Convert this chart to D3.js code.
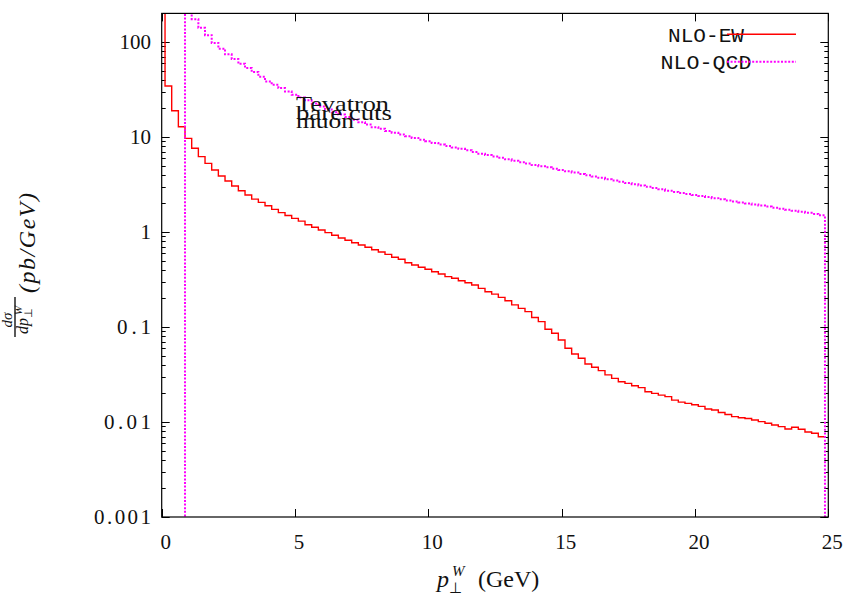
<!DOCTYPE html>
<html><head><meta charset="utf-8">
<script src="https://cdn.jsdelivr.net/npm/d3@7"></script>
<style>body{margin:0;background:#fff}svg{display:block}</style>
</head><body>
<svg id="chart" width="847" height="601"></svg>
<script>
// ---- data ----
const binWidth = 0.25;
const ewFirstCenter = 0.0;
const ewValues = [
  300, 34.4, 18.9, 12.8,
  9.68, 7.60, 6.21, 5.28,
  4.50, 3.88, 3.44, 3.05,
  2.72, 2.45, 2.22, 2.05,
  1.89, 1.73, 1.60, 1.49,
  1.39, 1.30, 1.19, 1.12,
  1.05, 0.984, 0.923, 0.865,
  0.818, 0.771, 0.730, 0.690,
  0.651, 0.616, 0.582, 0.542,
  0.516, 0.475, 0.450, 0.425,
  0.405, 0.382, 0.361, 0.339,
  0.326, 0.307, 0.292, 0.277,
  0.255, 0.235, 0.222, 0.205,
  0.189, 0.171, 0.157, 0.145,
  0.126, 0.114, 0.0946, 0.0859,
  0.0730, 0.0597, 0.0520, 0.0469,
  0.0408, 0.0377, 0.0347, 0.0313,
  0.0288, 0.0265, 0.0255, 0.0241,
  0.0230, 0.0208, 0.0200, 0.0192,
  0.0185, 0.0170, 0.0162, 0.0157,
  0.0152, 0.0146, 0.0137, 0.0134,
  0.0126, 0.0120, 0.0114, 0.0111,
  0.0109, 0.0105, 0.0101, 0.00969,
  0.00929, 0.00893, 0.00844, 0.00879,
  0.00838, 0.00785, 0.00760, 0.00700
];
const qcdFirstCenter = 1.0;
const qcdValues = [
  250, 174, 141, 118,
  97.7, 85.1, 74.1, 66.1,
  58.9, 53.3, 48.4, 43.2,
  38.5, 35.5, 32.7, 30.2,
  27.9, 26.0, 24.3, 22.5,
  20.9, 19.5, 18.2, 17.2,
  16.2, 15.2, 14.3, 13.5,
  12.7, 12.2, 11.6, 11.1,
  10.6, 10.2, 9.77, 9.38,
  9.02, 8.65, 8.32, 8.04,
  7.76, 7.50, 7.24, 6.95,
  6.68, 6.46, 6.24, 6.03,
  5.82, 5.62, 5.43, 5.25,
  5.07, 4.92, 4.79, 4.63,
  4.49, 4.35, 4.22, 4.08,
  3.96, 3.84, 3.72, 3.60,
  3.49, 3.38, 3.27, 3.18,
  3.09, 2.99, 2.90, 2.81,
  2.72, 2.64, 2.57, 2.51,
  2.45, 2.39, 2.33, 2.27,
  2.21, 2.15, 2.10, 2.05,
  2.00, 1.95, 1.90, 1.85,
  1.80, 1.76, 1.71, 1.67,
  1.63, 1.59, 1.55, 1.50
];
const seriesNames = ["NLO-EW", "NLO-QCD"];
const seriesColors = ["#ff0000", "#ff00ff"];
const xTicks = [0, 5, 10, 15, 20, 25];
const xTickLabels = ["0", "5", "10", "15", "20", "25"];
const yTicks = [0.001, 0.01, 0.1, 1, 10, 100];
const yTickLabels = ["0.001", "0.01", "0.1", "1", "10", "100"];
const xDomain = [0, 25];
const yDomain = [0.001, 200];
const annotationLines = ["Tevatron", "bare cuts", "muon"];

// ---- layout ----
const svg = d3.select("#chart");
const L = 161.7, R = 828.3, T = 13.4, B = 517;
const x = d3.scaleLinear().domain(xDomain).range([L, R]);
const y = d3.scaleLog().domain(yDomain).range([B, T]);
const serif = "'Liberation Serif','Times New Roman',serif";
const mono = "'Liberation Mono','DejaVu Sans Mono',monospace";
const ink = "#111";

svg.append("defs").append("clipPath").attr("id", "plotclip")
  .append("rect").attr("x", L).attr("y", T).attr("width", R - L).attr("height", B - T);

// ticks
const tickG = svg.append("g").attr("stroke", "#000").attr("stroke-width", 1);
const minorY = [];
for (let e = -3; e <= 2; e++) for (let m = 1; m <= 9; m++) {
  const v = m * Math.pow(10, e);
  if (v >= yDomain[0] && v <= yDomain[1]) minorY.push({v, major: m === 1});
}
minorY.forEach(t => {
  const len = t.major ? 8 : 4;
  const yy = Math.round(y(t.v)) + 0.5;
  tickG.append("line").attr("x1", L).attr("x2", L + len).attr("y1", yy).attr("y2", yy);
  tickG.append("line").attr("x1", R - len).attr("x2", R).attr("y1", yy).attr("y2", yy);
});
xTicks.forEach(t => {
  const xx = Math.round(x(t)) + 0.5;
  tickG.append("line").attr("x1", xx).attr("x2", xx).attr("y1", B).attr("y2", B - 8);
  tickG.append("line").attr("x1", xx).attr("x2", xx).attr("y1", T).attr("y2", T + 8);
});

// tick labels
const yLabWidths = {"0.001": 57, "0.01": 47, "0.1": 34};
svg.append("g").selectAll("text").data(yTicks).join("text")
  .attr("x", 151).attr("y", d => y(d) + 7)
  .attr("text-anchor", "end").attr("fill", ink)
  .attr("font-family", serif).attr("font-size", 21)
  .each(function(d, i) {
    const s = yTickLabels[i];
    if (yLabWidths[s]) d3.select(this).attr("textLength", yLabWidths[s]).attr("lengthAdjust", "spacing");
  })
  .text((d, i) => yTickLabels[i]);
svg.append("g").selectAll("text").data(xTicks).join("text")
  .attr("x", d => x(d) + 4).attr("y", 549)
  .attr("text-anchor", "middle").attr("fill", ink)
  .attr("font-family", serif).attr("font-size", 21)
  .text((d, i) => xTickLabels[i]);

// histogram step paths
function stepPoints(firstCenter, values, openBottomStart, closeBottomEnd) {
  const pts = [];
  const floor = 1e-5;
  const left0 = firstCenter - binWidth / 2;
  if (openBottomStart) pts.push([left0, floor]);
  values.forEach((v, i) => pts.push([firstCenter + i * binWidth - binWidth / 2, v]));
  const lastRight = firstCenter + (values.length - 1) * binWidth + binWidth / 2;
  pts.push([lastRight, values[values.length - 1]]);
  if (closeBottomEnd) pts.push([lastRight, floor]);
  return pts;
}
const line = d3.line()
  .x(d => x(d[0]))
  .y(d => Math.max(-50, Math.min(700, y(d[1]))))
  .curve(d3.curveStepAfter);

const plotG = svg.append("g").attr("clip-path", "url(#plotclip)");
plotG.append("path")
  .attr("d", line(stepPoints(ewFirstCenter, ewValues, false, false)))
  .attr("fill", "none").attr("stroke", seriesColors[0]).attr("stroke-width", 1.4);
plotG.append("path")
  .attr("d", line(stepPoints(qcdFirstCenter, qcdValues, true, true)))
  .attr("fill", "none").attr("stroke", seriesColors[1]).attr("stroke-width", 2)
  .attr("stroke-dasharray", "2,1.6");

// frame
svg.append("rect").attr("x", L).attr("y", T).attr("width", R - L).attr("height", B - T)
  .attr("fill", "none").attr("stroke", "#000").attr("stroke-width", 1.2);

// legend
const legY = [34.3, 61.7];
const legW = [76, 91];
seriesNames.forEach((name, i) => {
  svg.append("text").attr("x", 706).attr("y", legY[i] + 7.5)
    .attr("text-anchor", "middle").attr("fill", ink)
    .attr("font-family", mono).attr("font-size", 21)
    .attr("textLength", legW[i]).attr("lengthAdjust", "spacingAndGlyphs")
    .text(name);
  const ln = svg.append("line").attr("x1", 727).attr("x2", 796)
    .attr("y1", legY[i]).attr("y2", legY[i])
    .attr("stroke", seriesColors[i]).attr("stroke-width", i === 0 ? 1.4 : 2);
  if (i === 1) ln.attr("stroke-dasharray", "2,1.6");
});

// annotation
const annY = [111, 120, 128];
const annW = [93, 96, 58];
annotationLines.forEach((t, i) => {
  svg.append("text").attr("x", 296).attr("y", annY[i]).attr("fill", ink)
    .attr("font-family", serif).attr("font-size", 21)
    .attr("textLength", annW[i]).attr("lengthAdjust", "spacingAndGlyphs")
    .text(t);
});

// x axis label
const xl = svg.append("text").attr("x", 437).attr("y", 587).attr("fill", ink)
  .attr("font-family", serif).attr("font-size", 24);
xl.append("tspan").attr("font-style", "italic").text("p");
xl.append("tspan").attr("font-size", 15).attr("dy", 6).text("⊥");
xl.append("tspan").attr("font-size", 15).attr("font-style", "italic").attr("dx", -10).attr("dy", -17).text("W");
xl.append("tspan").attr("x", 478).attr("dy", 11).text("(GeV)");

// y axis label (rotated)
const yl = svg.append("g").attr("transform", "rotate(-90)").attr("fill", ink);
const fracC = -317;
yl.append("line").attr("x1", fracC - 20).attr("x2", fracC + 20).attr("y1", 15).attr("y2", 15)
  .attr("stroke", "#000").attr("stroke-width", 1.3);
yl.append("text").attr("x", fracC - 3).attr("y", 12).attr("text-anchor", "middle")
  .attr("font-family", serif).attr("font-style", "italic").attr("font-size", 15).text("dσ");
const den = yl.append("text").attr("x", fracC - 3).attr("y", 28).attr("text-anchor", "middle")
  .attr("font-family", serif).attr("font-style", "italic").attr("font-size", 16);
den.append("tspan").text("dp");
den.append("tspan").attr("font-size", 11).attr("dy", 4).attr("font-style", "normal").text("⊥");
den.append("tspan").attr("font-size", 11).attr("dx", -7).attr("dy", -10).text("W");
yl.append("text").attr("x", -243).attr("y", 35).attr("text-anchor", "middle")
  .attr("font-family", serif).attr("font-style", "italic").attr("font-size", 24)
  .attr("textLength", 100).attr("lengthAdjust", "spacing")
  .text("(pb/GeV)");
</script>
</body></html>
